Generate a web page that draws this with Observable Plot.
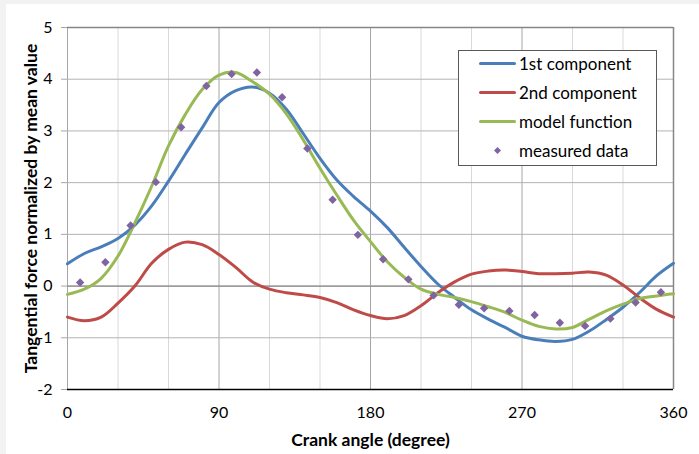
<!DOCTYPE html>
<html><head><meta charset="utf-8">
<script src="https://cdn.jsdelivr.net/npm/d3@7"></script>
<script src="https://cdn.jsdelivr.net/npm/@observablehq/plot@0.6"></script>
<style>
html,body{margin:0;padding:0;background:#f2f2f2;}
#chart{position:absolute;left:6px;top:4px;width:693px;height:450px;background:#fff;overflow:hidden;}
#chart > svg{position:absolute;left:0;top:0;}
svg [aria-label="y-axis label"] text, svg [aria-label="x-axis label"] text{font-weight:700;font-size:17.5px;}
#legend{position:absolute;left:452px;top:46px;width:197px;height:114px;border:1.5px solid #595959;background:#fff;font-family:Lato;font-size:17px;color:#000;}
.row{position:relative;height:29px;top:-2px;}
.sw{position:absolute;left:20px;top:13px;width:37px;height:3px;border-radius:1.5px;}
.lab{position:absolute;left:60px;top:0;line-height:29px;white-space:nowrap;}
.dia{position:absolute;left:35px;top:11px;width:7px;height:7px;}
</style>
</head><body>
<div id="chart"></div>
<script>
// ---- data ----
const angle = [0,10,20,30,40,50,60,70,80,90,100,110,120,130,140,150,160,170,180,190,200,210,220,230,240,250,260,270,280,290,300,310,320,330,340,350,360];
const firstComponent = [0.43,0.63,0.76,0.92,1.18,1.55,2.03,2.55,3.06,3.55,3.78,3.85,3.73,3.42,2.95,2.47,2.05,1.73,1.45,1.13,0.75,0.38,0.04,-0.22,-0.46,-0.64,-0.80,-0.97,-1.04,-1.07,-1.03,-0.87,-0.65,-0.41,-0.12,0.20,0.44];
const secondComponent = [-0.60,-0.67,-0.60,-0.33,0.00,0.44,0.71,0.85,0.80,0.61,0.36,0.08,-0.06,-0.13,-0.17,-0.22,-0.32,-0.46,-0.57,-0.63,-0.57,-0.38,-0.13,0.08,0.23,0.29,0.31,0.28,0.24,0.24,0.25,0.27,0.21,0.02,-0.23,-0.45,-0.60];
const modelFunction = [-0.16,-0.06,0.15,0.58,1.22,1.93,2.71,3.32,3.80,4.08,4.13,3.95,3.71,3.33,2.83,2.28,1.76,1.27,0.86,0.47,0.17,-0.06,-0.16,-0.22,-0.30,-0.40,-0.51,-0.66,-0.78,-0.83,-0.80,-0.64,-0.48,-0.35,-0.24,-0.19,-0.15];
const measuredAngle = [7.5,22.5,37.5,52.5,67.5,82.5,97.5,112.5,127.5,142.5,157.5,172.5,187.5,202.5,217.5,232.5,247.5,262.5,277.5,292.5,307.5,322.5,337.5,352.5];
const measuredData = [0.07,0.46,1.17,2.01,3.07,3.87,4.10,4.13,3.65,2.66,1.67,0.99,0.52,0.13,-0.18,-0.36,-0.43,-0.48,-0.56,-0.71,-0.77,-0.63,-0.32,-0.12];
const xTicks = [0,90,180,270,360];
const xGridMinor = [30,60,120,150,210,240,300,330];
const yTicks = [-2,-1,0,1,2,3,4,5];
const seriesNames = ["1st component","2nd component","model function","measured data"];
const colors = ["#4a7ebb","#be4b48","#98b954","#8064a2"];

const curves = [firstComponent, secondComponent, modelFunction].map((vals, k) =>
  angle.map((a, i) => ({angle: a, value: vals[i], series: seriesNames[k]})));
const points = measuredAngle.map((a, i) => ({angle: a, value: measuredData[i]}));
const fmt = d => String(d);

const svg = Plot.plot({
  width: 693, height: 450,
  marginLeft: 61, marginRight: 26, marginTop: 23, marginBottom: 65,
  style: {fontFamily: "Lato", fontSize: "16px", color: "#000", background: "transparent", overflow: "visible"},
  x: {domain: [0, 360]},
  y: {domain: [-2, 5]},
  marks: [
    Plot.ruleX(xGridMinor, {stroke: "#d9d9d9", strokeWidth: 1}),
    Plot.ruleX(xTicks, {stroke: "#a6a6a6", strokeWidth: 1}),
    Plot.ruleY(yTicks, {stroke: "#b3b3b3", strokeWidth: 1}),
    Plot.ruleY([0], {stroke: "#8c8c8c", strokeWidth: 1.3}),
    Plot.ruleY([5], {stroke: "#868686", strokeWidth: 1.5}),
    Plot.ruleX([360], {stroke: "#868686", strokeWidth: 1.5}),
    Plot.ruleY([-2], {stroke: "#000", strokeWidth: 1.3}),
    Plot.axisY({ticks: yTicks, tickFormat: fmt, tickSize: 6, tickPadding: 9, stroke: "#a6a6a6", fill: "#000",
      label: "Tangential force normalized by mean value", labelAnchor: "center", labelOffset: 43, labelArrow: "none"}),
    Plot.axisX({ticks: xTicks, tickFormat: fmt, tickSize: 0, tickPadding: 17, fill: "#000",
      label: "Crank angle (degree)", labelAnchor: "center", labelOffset: 56, labelArrow: "none"}),
    ...curves.map((c, k) => Plot.line(c, {x: "angle", y: "value", stroke: colors[k], strokeWidth: 3, curve: "catmull-rom"})),
    Plot.dot(points, {x: "angle", y: "value", symbol: "diamond2", r: 3.8, fill: colors[3], stroke: "none"})
  ]
});
const chart = document.getElementById("chart");
chart.appendChild(svg);

// legend
const legend = document.createElement("div");
legend.id = "legend";
seriesNames.forEach((name, k) => {
  const row = document.createElement("div");
  row.className = "row";
  if (k < 3) {
    row.innerHTML = `<div class="sw" style="background:${colors[k]}"></div><div class="lab">${name}</div>`;
  } else {
    row.innerHTML = `<svg class="dia" viewBox="0 0 10 10"><path d="M5 0L10 5L5 10L0 5Z" fill="${colors[k]}"/></svg><div class="lab">${name}</div>`;
  }
  legend.appendChild(row);
});
chart.appendChild(legend);
</script>
</body></html>
